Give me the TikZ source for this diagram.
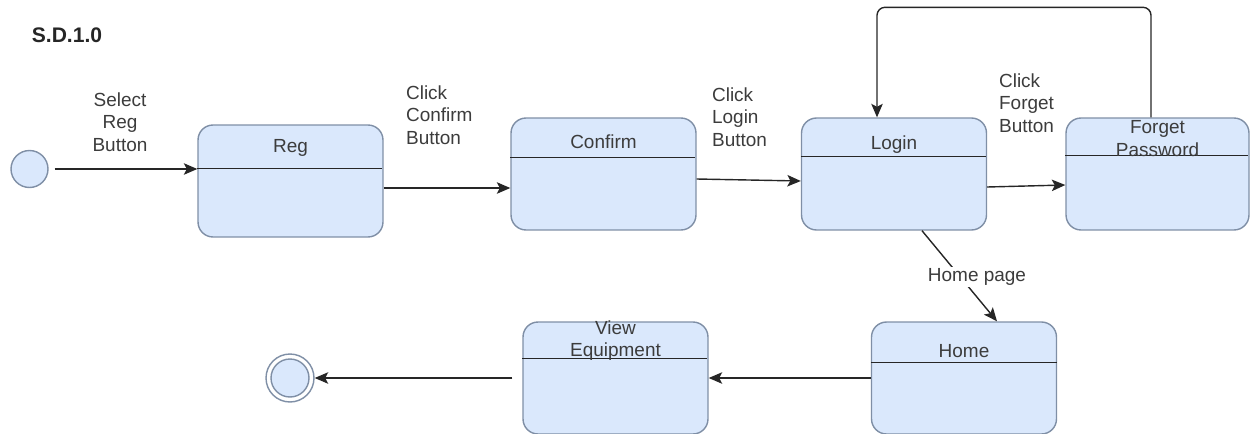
\documentclass[tikz,border=0pt]{standalone}
\usepackage{fontspec}
\setmainfont{Liberation Sans}
\usepackage{tikz}
\usetikzlibrary{arrows.meta}
\definecolor{boxfill}{HTML}{DAE8FC}
\definecolor{boxline}{HTML}{7F8FA6}
\definecolor{txtgray}{HTML}{3C3C3C}
\tikzset{
  statebox/.style={draw=boxline, fill=boxfill, line width=0.8pt, rounded corners=0.3cm,
    minimum width=3.7cm, minimum height=2.24cm, inner sep=0pt},
  divider/.style={line width=0.9pt, black!85},
  trans/.style={-{Stealth[length=0.27cm,width=0.23cm,inset=0.06cm]}, line width=0.8pt, black!85},
  lbl/.style={text=txtgray, font=\fontsize{10.8}{12.8}\selectfont, align=center, inner sep=1pt},
}

\begin{document}
\begin{tikzpicture}[x=0.02cm, y=-0.02cm]
    \useasboundingbox (0,0) rectangle (1250,433);

    % title
    \node[font=\bfseries\fontsize{12}{14}\selectfont, text=black!85] (title) at (67,35) {S.D.1.0};

    % start
    \node[circle, draw=boxline, fill=boxfill, line width=0.8pt, minimum size=0.74cm, inner sep=0pt] (init) at (29.5,169) {};

    % Reg
    \node[statebox] (reg) at (290.5,181) {};
    \draw[divider] (reg.north west) ++(0,44) -- ++(185,0);
    \node[lbl] (regt) at (290.5,148) {Reg};

    % Confirm
    \node[statebox] (confirm) at (603.5,174) {};
    \draw[divider] (confirm.north west) ++(0,40) -- ++(185,0);
    \node[lbl] (confirmt) at (603.5,142) {Confirm};

    % Login
    \node[statebox] (login) at (894,174) {};
    \draw[divider] (login.north west) ++(0,39) -- ++(185,0);
    \node[lbl] (logint) at (894,145) {Login};

    % Forget Password
    \node[statebox, minimum width=3.66cm] (forget) at (1157.5,174) {};
    \draw[divider] (forget.north west) ++(0,38) -- ++(183,0);
    \node[lbl] (forgett) at (1157.5,138.5) {Forget\\Password};

    % Home
    \node[statebox] (home) at (964,378) {};
    \draw[divider] (home.north west) ++(0,41) -- ++(186,0);
    \node[lbl] (homet) at (964,351) {Home};

    % View Equipment
    \node[statebox] (ve) at (615.5,378) {};
    \draw[divider] (ve.north west) ++(0,37) -- ++(185,0);
    \node[lbl] (vet) at (615.5,340.5) {View\\Equipment};

    % end
    \node[circle, draw=boxline, fill=white, line width=0.8pt, minimum size=0.96cm, inner sep=0pt] (final) at (290,378) {};
    \node[circle, draw=boxline, fill=boxfill, line width=0.8pt, minimum size=0.76cm, inner sep=0pt] (finalin) at (final) {};

    % transitions
    \draw[trans, shorten <=0.12cm] (init) -- (init -| reg.west);
    \node[lbl] (selreg) at (120,122) {Select\\Reg\\Button};

    \draw[trans] ([yshift=-0.14cm]reg.east) -- ([yshift=-0.14cm]reg.east -| confirm.west);
    \node[lbl, anchor=west, align=left] (clkconf) at (404,115) {Click\\Confirm\\Button};

    \draw[trans] ([yshift=-0.1cm]confirm.east) -- ([yshift=-0.14cm]login.west);
    \node[lbl, anchor=west, align=left] (clklogin) at (710,117) {Click\\Login\\Button};

    \draw[trans] ([yshift=-0.26cm]login.east) -- ([yshift=-0.22cm]forget.west);
    \node[lbl, anchor=west, align=left] (clkforget) at (997,103) {Click\\Forget\\Button};

    \draw[trans, rounded corners=0.16cm] ([xshift=-0.13cm]forget.north) -- ++(0,-110) -| ([xshift=-0.34cm]login.north);

    \draw[trans] ([xshift=0.56cm]login.south) -- ([xshift=0.66cm]home.north);
    \node[lbl, fill=white] (homepage) at (977,277) {Home page};

    \draw[trans] (home.west) -- (ve.east);
    \draw[trans, shorten <=0.2cm] (ve.west) -- (final);
\end{tikzpicture}
\end{document}
